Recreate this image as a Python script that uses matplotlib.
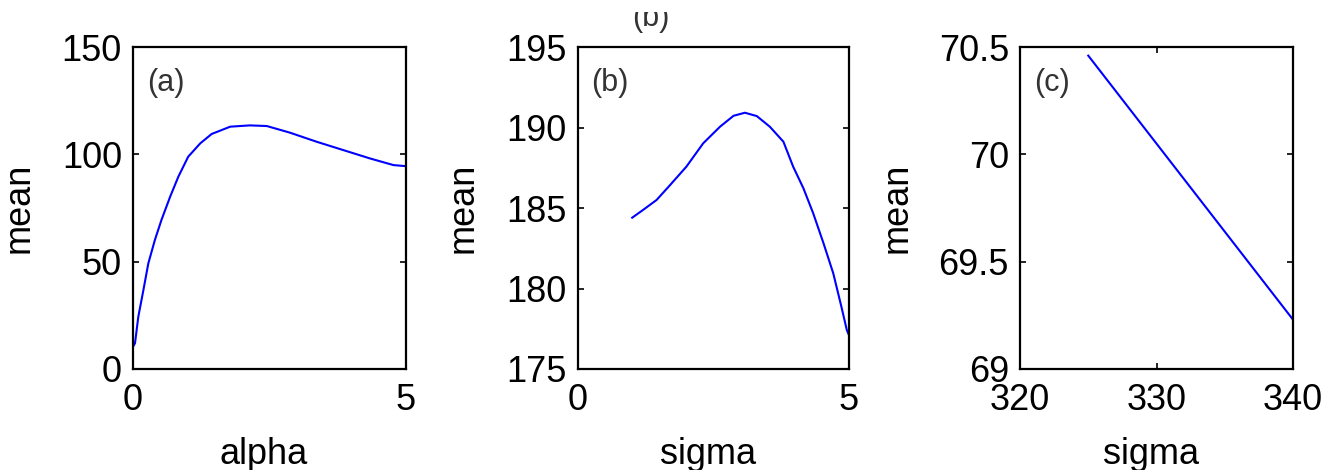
import matplotlib
matplotlib.use("Agg")
import matplotlib.pyplot as plt
from matplotlib.patches import Rectangle

# panel (a): mean vs alpha
alpha_x = [0.0, 0.036, 0.097, 0.19, 0.28, 0.40, 0.52, 0.68, 0.83, 1.01, 1.23, 1.44,
           1.78, 2.14, 2.45, 2.875, 3.36, 3.85, 4.34, 4.77, 5.0]
alpha_mean = [10.4, 12.0, 24.4, 36.8, 49.2, 60.1, 69.4, 80.3, 89.6, 98.9, 105.1, 109.5,
              112.9, 113.5, 113.2, 110.1, 105.9, 102.0, 98.1, 95.0, 94.5]

# panel (b): mean vs sigma
sigma_b = [1.0, 1.20, 1.45, 1.70, 2.0, 2.31, 2.62, 2.87, 3.08, 3.30, 3.54, 3.79,
           3.97, 4.16, 4.34, 4.53, 4.71, 4.86, 4.96, 5.0]
mean_b = [184.4, 184.88, 185.5, 186.43, 187.57, 189.02, 190.05, 190.73, 190.92, 190.71,
          190.05, 189.12, 187.57, 186.22, 184.67, 182.81, 180.94, 178.87, 177.42, 177.1]

# panel (c): mean vs sigma (large sigma)
sigma_c = [325, 330, 335, 340]
mean_c = [70.46, 70.05, 69.64, 69.23]

plt.rcParams["font.family"] = ["Liberation Sans", "DejaVu Sans"]

fig = plt.figure(figsize=(13.33, 4.7), dpi=100)

panels = [
    dict(pos=[0.0998, 0.2149, 0.2048, 0.685], x=alpha_x, y=alpha_mean, xlim=(0, 5), ylim=(0, 150),
         xticks=[0, 5], yticks=[0, 50, 100, 150], xlabel="alpha", tag="(a)", ylx=-0.355),
    dict(pos=[0.4336, 0.2149, 0.2033, 0.685], x=sigma_b, y=mean_b, xlim=(0, 5), ylim=(175, 195),
         xticks=[0, 5], yticks=[175, 180, 185, 190, 195], xlabel="sigma", tag="(b)", ylx=-0.36),
    dict(pos=[0.7652, 0.2149, 0.2048, 0.685], x=sigma_c, y=mean_c, xlim=(320, 340), ylim=(69, 70.5),
         xticks=[320, 330, 340], yticks=[69, 69.5, 70, 70.5], xlabel="sigma", tag="(c)", ylx=-0.385),
]

for p in panels:
    ax = fig.add_axes(p["pos"])
    ax.plot(p["x"], p["y"], color="#0000ff", lw=1.5)
    ax.set_xlim(*p["xlim"])
    ax.set_ylim(*p["ylim"])
    ax.set_xticks(p["xticks"])
    ax.set_yticks(p["yticks"])
    ax.set_xticklabels([f"{v:g}" for v in p["xticks"]])
    ax.set_yticklabels([f"{v:g}" for v in p["yticks"]])
    ax.tick_params(direction="in", top=True, right=True, length=4, width=1.2,
                   labelsize=26, colors="black")
    ax.tick_params(axis="x", pad=10)
    ax.tick_params(axis="y", pad=8)
    for s in ax.spines.values():
        s.set_linewidth(1.6)
    ax.set_xlabel(p["xlabel"], fontsize=26)
    ax.set_ylabel("mean", fontsize=26)
    ax.xaxis.set_label_coords(0.48, -0.21)
    ax.yaxis.set_label_coords(p["ylx"], 0.5)
    ax.text(0.05, 0.935, p["tag"], transform=ax.transAxes, fontsize=22,
            color="#333333", va="top", ha="left")

# title above panel (b), its upper part is cut off like in the source
clip = Rectangle((0, 0), 1, 1 - 12 / 470, transform=fig.transFigure, visible=False)
fig.add_artist(clip)
t = fig.text(651 / 1333, 1 - 33 / 470, "(b)", fontsize=22, color="#333333", ha="center", va="bottom")
t.set_clip_path(clip)

fig.savefig("out.png", dpi=100)
